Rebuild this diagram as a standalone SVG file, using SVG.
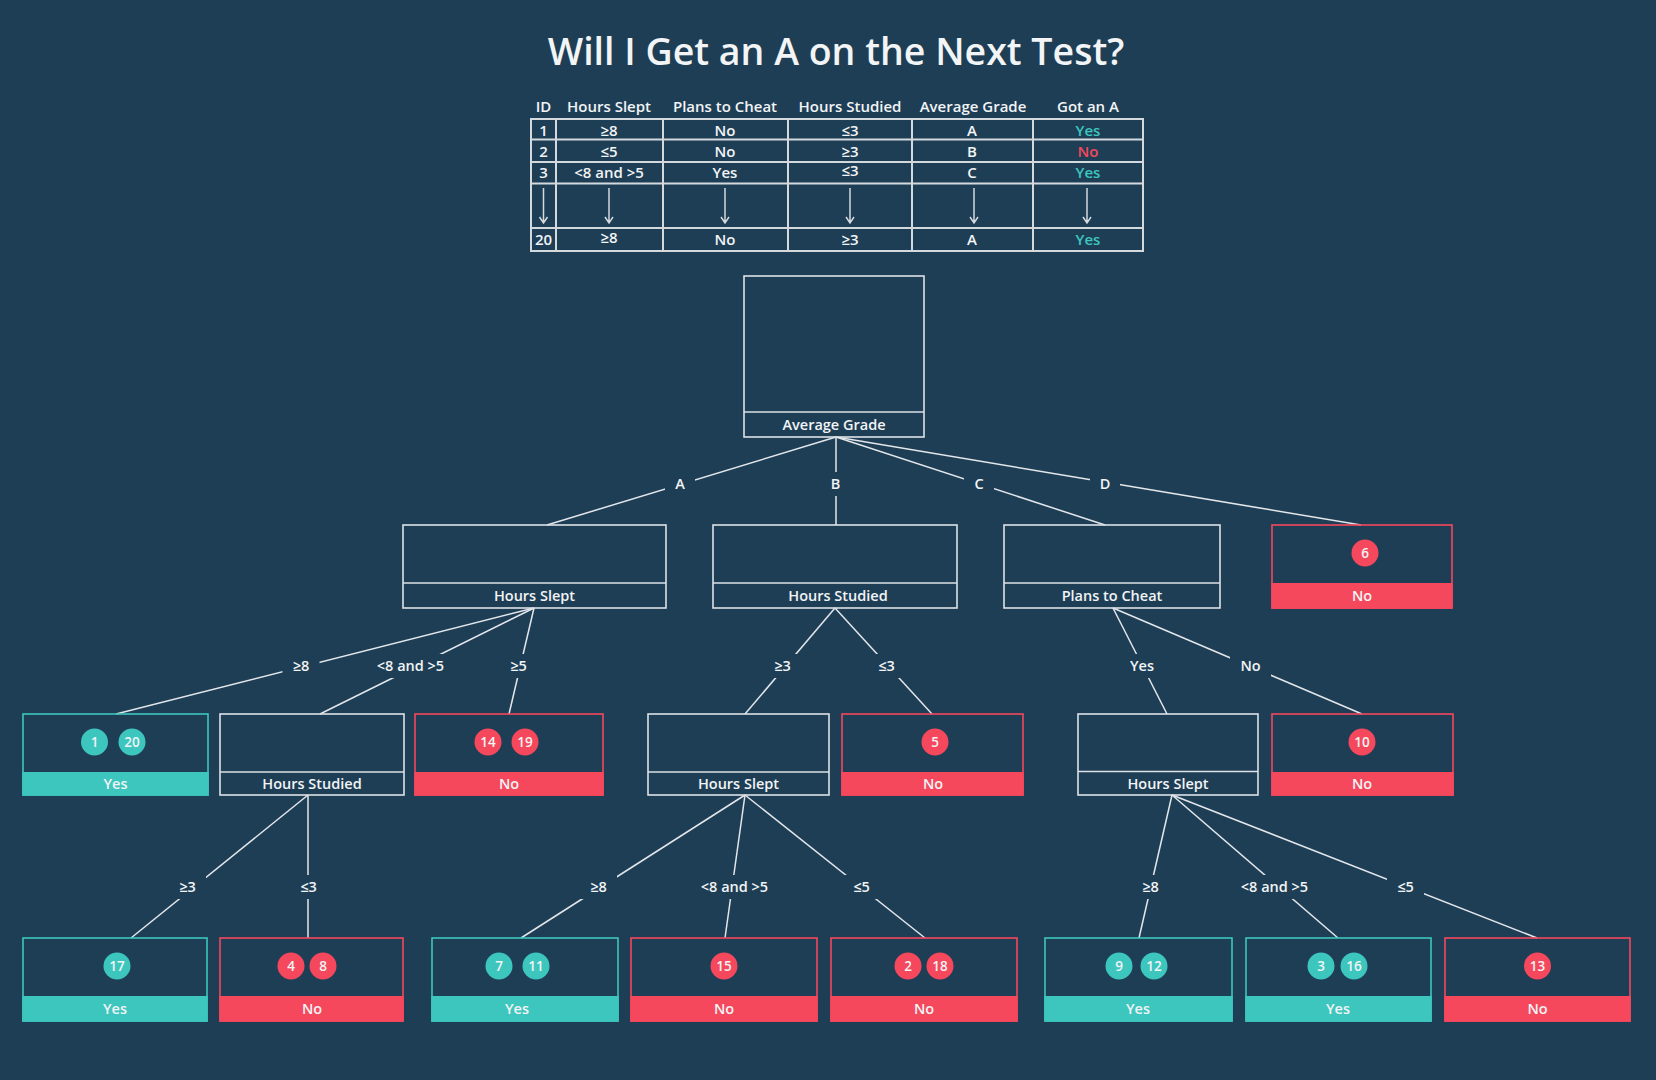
<svg xmlns="http://www.w3.org/2000/svg" width="1656" height="1080" viewBox="0 0 1656 1080">
<style>
.t{font-family:"Open Sans","Liberation Sans","DejaVu Sans",sans-serif;font-weight:600;fill:#f2f4f5;text-anchor:middle}
.title{font-size:37.5px}
.th{font-size:15px}
.td{font-size:15px}
.yes{fill:#3dc6be}
.no{fill:#f5485d}
.lbl{font-size:14.5px}
.el{font-size:14.5px}
.num{font-size:13.5px}
.grid{fill:none;stroke:#d3d9dd;stroke-width:2}
.arr{fill:none;stroke:#d3d9dd;stroke-width:1.5}
.dec{fill:none;stroke:#dde2e6;stroke-width:1.6}
.bY{fill:none;stroke:#3dc6be;stroke-width:1.6}
.bN{fill:none;stroke:#f5485d;stroke-width:1.6}
.fY{fill:#3dc6be}
.fN{fill:#f5485d}
.conn line{stroke:#e3e7ea;stroke-width:1.5}
</style>
<defs>
<mask id="gaps" maskUnits="userSpaceOnUse" x="0" y="0" width="1656" height="1080">
<rect x="0" y="0" width="1656" height="1080" fill="#fff"/>
<g fill="#000">
<rect x="665" y="472" width="30" height="24"/>
<rect x="821" y="472" width="29" height="24"/>
<rect x="964" y="472" width="30" height="24"/>
<rect x="1090" y="472" width="30" height="24"/>
<rect x="282.5" y="654" width="37" height="24"/>
<rect x="367" y="654" width="87" height="24"/>
<rect x="500" y="654" width="37" height="24"/>
<rect x="764" y="654" width="37" height="24"/>
<rect x="868" y="654" width="37" height="24"/>
<rect x="1119" y="654" width="46" height="24"/>
<rect x="1230" y="654" width="41" height="24"/>
<rect x="169" y="875" width="37" height="24"/>
<rect x="290" y="875" width="37" height="24"/>
<rect x="580" y="875" width="37" height="24"/>
<rect x="691" y="875" width="87" height="24"/>
<rect x="843" y="875" width="37" height="24"/>
<rect x="1132" y="875" width="37" height="24"/>
<rect x="1231" y="875" width="87" height="24"/>
<rect x="1387" y="875" width="37" height="24"/>
</g>
</mask>
</defs>
<rect x="0" y="0" width="1656" height="1080" fill="#1e3e56"/>

<text class="t title" x="836" y="65">Will I Get an A on the Next Test?</text>

<g id="table">
<g class="t th">
<text x="543.5" y="111.5">ID</text>
<text x="609" y="111.5">Hours Slept</text>
<text x="725" y="111.5">Plans to Cheat</text>
<text x="850" y="111.5">Hours Studied</text>
<text x="973" y="111.5">Average Grade</text>
<text x="1088" y="111.5">Got an A</text>
</g>
<rect class="grid" x="531" y="119" width="612" height="132"/>
<path class="grid" d="M556 119V251M663 119V251M788 119V251M912 119V251M1033 119V251M531 139.5H1143M531 162H1143M531 183.5H1143M531 228H1143"/>
<g class="t td">
<text x="543.5" y="135.5">1</text><text x="609" y="135.5">≥8</text><text x="725" y="135.5">No</text><text x="850" y="135.5">≤3</text><text x="972" y="135.5">A</text><text class="yes" x="1088" y="135.5">Yes</text>
<text x="543.5" y="156.5">2</text><text x="609" y="156.5">≤5</text><text x="725" y="156.5">No</text><text x="850" y="156.5">≥3</text><text x="972" y="156.5">B</text><text class="no" x="1088" y="156.5">No</text>
<text x="543.5" y="178">3</text><text x="609" y="178">&lt;8 and &gt;5</text><text x="725" y="178">Yes</text><text x="850" y="176">≤3</text><text x="972" y="178">C</text><text class="yes" x="1088" y="178">Yes</text>
<text x="543.5" y="245">20</text><text x="609" y="243">≥8</text><text x="725" y="245">No</text><text x="850" y="245">≥3</text><text x="972" y="245">A</text><text class="yes" x="1088" y="245">Yes</text>
</g>
<path class="arr" d="M543.5 188V223M539.5 217L543.5 223L547.5 217M609 188V223M605 217L609 223L613 217M725 188V223M721 217L725 223L729 217M850 188V223M846 217L850 223L854 217M974 188V223M970 217L974 223L978 217M1087 188V223M1083 217L1087 223L1091 217"/>
</g>

<g id="connectors" class="conn" mask="url(#gaps)">
<line x1="836" y1="437" x2="547" y2="525"/>
<line x1="836" y1="437" x2="836" y2="525"/>
<line x1="836" y1="437" x2="1105" y2="525"/>
<line x1="836" y1="437" x2="1361" y2="525"/>
<line x1="534" y1="608" x2="116" y2="714"/>
<line x1="534" y1="608" x2="320" y2="714"/>
<line x1="534" y1="608" x2="509" y2="714"/>
<line x1="835" y1="608" x2="745" y2="714"/>
<line x1="835" y1="608" x2="932" y2="714"/>
<line x1="1113" y1="608" x2="1167" y2="714"/>
<line x1="1113" y1="608" x2="1362" y2="714"/>
<line x1="308" y1="795" x2="131" y2="938"/>
<line x1="308" y1="795" x2="308" y2="938"/>
<line x1="745" y1="795" x2="521" y2="938"/>
<line x1="745" y1="795" x2="725" y2="938"/>
<line x1="745" y1="795" x2="925" y2="938"/>
<line x1="1172" y1="795" x2="1139" y2="938"/>
<line x1="1172" y1="795" x2="1338" y2="938"/>
<line x1="1172" y1="795" x2="1537" y2="938"/>
</g>

<g id="edge-labels" class="t el">
<text x="680" y="489">A</text>
<text x="835.5" y="489">B</text>
<text x="979" y="489">C</text>
<text x="1105" y="489">D</text>
<text x="301" y="671">≥8</text>
<text x="410.5" y="671">&lt;8 and &gt;5</text>
<text x="518.5" y="671">≥5</text>
<text x="782.5" y="671">≥3</text>
<text x="886.5" y="671">≤3</text>
<text x="1142" y="671">Yes</text>
<text x="1250.5" y="671">No</text>
<text x="187.5" y="892">≥3</text>
<text x="308.5" y="892">≤3</text>
<text x="598.5" y="892">≥8</text>
<text x="734.5" y="892">&lt;8 and &gt;5</text>
<text x="861.5" y="892">≤5</text>
<text x="1150.5" y="892">≥8</text>
<text x="1274.5" y="892">&lt;8 and &gt;5</text>
<text x="1405.5" y="892">≤5</text>
</g>

<g id="node-average-grade">
<rect class="dec" x="744" y="276" width="180" height="161"/>
<line class="dec" x1="744" y1="412" x2="924" y2="412"/>
<text class="t lbl" x="834" y="429.5">Average Grade</text>
</g>

<g id="node-hours-slept-1">
<rect class="dec" x="403" y="525" width="263" height="83"/>
<line class="dec" x1="403" y1="583" x2="666" y2="583"/>
<text class="t lbl" x="534.5" y="601">Hours Slept</text>
</g>
<g id="node-hours-studied-1">
<rect class="dec" x="713" y="525" width="244" height="83"/>
<line class="dec" x1="713" y1="583" x2="957" y2="583"/>
<text class="t lbl" x="838" y="601">Hours Studied</text>
</g>
<g id="node-plans-to-cheat">
<rect class="dec" x="1004" y="525" width="216" height="83"/>
<line class="dec" x1="1004" y1="583" x2="1220" y2="583"/>
<text class="t lbl" x="1112" y="601">Plans to Cheat</text>
</g>
<g id="leaf-6">
<rect class="bN" x="1272" y="525" width="180" height="83"/>
<rect class="fN" x="1271.2" y="583" width="181.6" height="25.8"/>
<circle class="fN" cx="1365" cy="553" r="13.5"/>
<text class="t num" x="1365" y="558">6</text>
<text class="t lbl" x="1362" y="601">No</text>
</g>

<g id="leaf-1-20">
<rect class="bY" x="23" y="714" width="185" height="81"/>
<rect class="fY" x="22.2" y="772" width="186.6" height="23.8"/>
<circle class="fY" cx="94.5" cy="742" r="13.5"/>
<text class="t num" x="94.5" y="747">1</text>
<circle class="fY" cx="132" cy="742" r="13.5"/>
<text class="t num" x="132" y="747">20</text>
<text class="t lbl" x="115.5" y="789">Yes</text>
</g>
<g id="node-hours-studied-2">
<rect class="dec" x="220" y="714" width="184" height="81"/>
<line class="dec" x1="220" y1="772" x2="404" y2="772"/>
<text class="t lbl" x="312" y="789">Hours Studied</text>
</g>
<g id="leaf-14-19">
<rect class="bN" x="415" y="714" width="188" height="81"/>
<rect class="fN" x="414.2" y="772" width="189.6" height="23.8"/>
<circle class="fN" cx="488" cy="742" r="13.5"/>
<text class="t num" x="488" y="747">14</text>
<circle class="fN" cx="525" cy="742" r="13.5"/>
<text class="t num" x="525" y="747">19</text>
<text class="t lbl" x="509" y="789">No</text>
</g>
<g id="node-hours-slept-2">
<rect class="dec" x="648" y="714" width="181" height="81"/>
<line class="dec" x1="648" y1="772" x2="829" y2="772"/>
<text class="t lbl" x="738.5" y="789">Hours Slept</text>
</g>
<g id="leaf-5">
<rect class="bN" x="842" y="714" width="181" height="81"/>
<rect class="fN" x="841.2" y="772" width="182.6" height="23.8"/>
<circle class="fN" cx="935" cy="742" r="13.5"/>
<text class="t num" x="935" y="747">5</text>
<text class="t lbl" x="933" y="789">No</text>
</g>
<g id="node-hours-slept-3">
<rect class="dec" x="1078" y="714" width="180" height="81"/>
<line class="dec" x1="1078" y1="771.5" x2="1258" y2="771.5"/>
<text class="t lbl" x="1168" y="788.5">Hours Slept</text>
</g>
<g id="leaf-10">
<rect class="bN" x="1272" y="714" width="181" height="81"/>
<rect class="fN" x="1271.2" y="772" width="182.6" height="23.8"/>
<circle class="fN" cx="1362" cy="742" r="13.5"/>
<text class="t num" x="1362" y="747">10</text>
<text class="t lbl" x="1362" y="789">No</text>
</g>

<g id="leaf-17">
<rect class="bY" x="23" y="938" width="184" height="83"/>
<rect class="fY" x="22.2" y="996" width="185.6" height="25.8"/>
<circle class="fY" cx="117" cy="966" r="13.5"/>
<text class="t num" x="117" y="971">17</text>
<text class="t lbl" x="115" y="1014">Yes</text>
</g>
<g id="leaf-4-8">
<rect class="bN" x="220" y="938" width="183" height="83"/>
<rect class="fN" x="219.2" y="996" width="184.6" height="25.8"/>
<circle class="fN" cx="291" cy="966" r="13.5"/>
<text class="t num" x="291" y="971">4</text>
<circle class="fN" cx="323" cy="966" r="13.5"/>
<text class="t num" x="323" y="971">8</text>
<text class="t lbl" x="312" y="1014">No</text>
</g>
<g id="leaf-7-11">
<rect class="bY" x="432" y="938" width="186" height="83"/>
<rect class="fY" x="431.2" y="996" width="187.6" height="25.8"/>
<circle class="fY" cx="499" cy="966" r="13.5"/>
<text class="t num" x="499" y="971">7</text>
<circle class="fY" cx="536" cy="966" r="13.5"/>
<text class="t num" x="536" y="971">11</text>
<text class="t lbl" x="517" y="1014">Yes</text>
</g>
<g id="leaf-15">
<rect class="bN" x="631" y="938" width="186" height="83"/>
<rect class="fN" x="630.2" y="996" width="187.6" height="25.8"/>
<circle class="fN" cx="724" cy="966" r="13.5"/>
<text class="t num" x="724" y="971">15</text>
<text class="t lbl" x="724" y="1014">No</text>
</g>
<g id="leaf-2-18">
<rect class="bN" x="831" y="938" width="186" height="83"/>
<rect class="fN" x="830.2" y="996" width="187.6" height="25.8"/>
<circle class="fN" cx="908" cy="966" r="13.5"/>
<text class="t num" x="908" y="971">2</text>
<circle class="fN" cx="940" cy="966" r="13.5"/>
<text class="t num" x="940" y="971">18</text>
<text class="t lbl" x="924" y="1014">No</text>
</g>
<g id="leaf-9-12">
<rect class="bY" x="1045" y="938" width="187" height="83"/>
<rect class="fY" x="1044.2" y="996" width="188.6" height="25.8"/>
<circle class="fY" cx="1119" cy="966" r="13.5"/>
<text class="t num" x="1119" y="971">9</text>
<circle class="fY" cx="1154" cy="966" r="13.5"/>
<text class="t num" x="1154" y="971">12</text>
<text class="t lbl" x="1138" y="1014">Yes</text>
</g>
<g id="leaf-3-16">
<rect class="bY" x="1246" y="938" width="185" height="83"/>
<rect class="fY" x="1245.2" y="996" width="186.6" height="25.8"/>
<circle class="fY" cx="1321" cy="966" r="13.5"/>
<text class="t num" x="1321" y="971">3</text>
<circle class="fY" cx="1354" cy="966" r="13.5"/>
<text class="t num" x="1354" y="971">16</text>
<text class="t lbl" x="1338" y="1014">Yes</text>
</g>
<g id="leaf-13">
<rect class="bN" x="1445" y="938" width="185" height="83"/>
<rect class="fN" x="1444.2" y="996" width="186.6" height="25.8"/>
<circle class="fN" cx="1537.5" cy="966" r="13.5"/>
<text class="t num" x="1537.5" y="971">13</text>
<text class="t lbl" x="1537.5" y="1014">No</text>
</g>
</svg>
